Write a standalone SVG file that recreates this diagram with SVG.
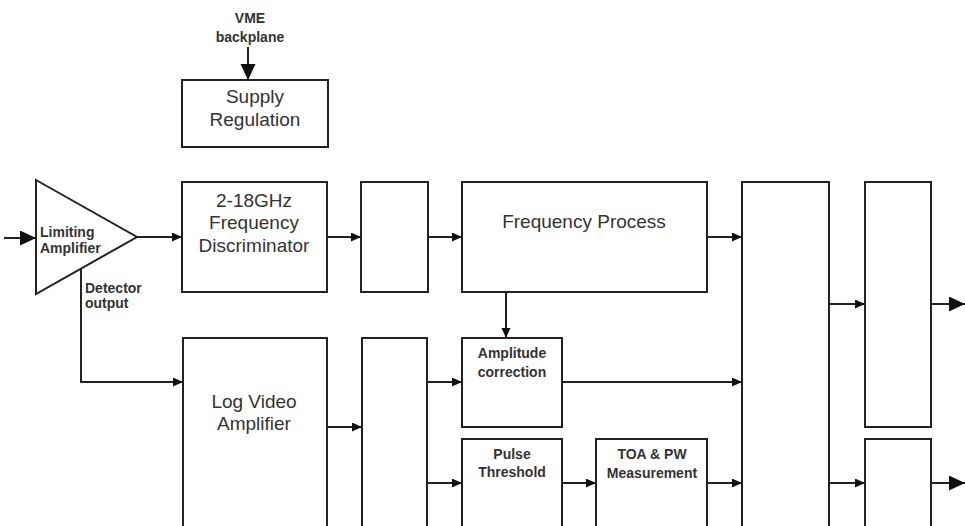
<svg xmlns="http://www.w3.org/2000/svg" width="965" height="526" viewBox="0 0 965 526">
<style>
.b{fill:#fff;stroke:#222;stroke-width:2}
.c{fill:none;stroke:#222;stroke-width:2}
.t{font-family:"Liberation Sans",Arial,sans-serif;fill:#333;text-anchor:middle}
.L{font-size:19px}
.S{font-size:14px;font-weight:bold}
</style>
<defs>
<marker id="a" markerUnits="userSpaceOnUse" markerWidth="11" markerHeight="10" refX="10" refY="4.5" orient="auto"><path d="M0,0 L10,4.5 L0,9 z" fill="#111"/></marker>
<marker id="A" markerUnits="userSpaceOnUse" markerWidth="17" markerHeight="16" refX="16" refY="7.5" orient="auto"><path d="M0,0 L16,7.5 L0,15 z" fill="#111"/></marker>
</defs>
<rect width="965" height="526" fill="#fff"/>
<g id="vme"><text class="t S" x="250" y="23">VME</text><text class="t S" x="250" y="42">backplane</text></g>
<g id="supply"><rect class="b" x="182" y="80" width="146" height="67"/><text class="t L" x="255" y="103">Supply</text><text class="t L" x="255" y="126">Regulation</text></g>
<g id="limamp"><path class="b" d="M36,180 L137,237 L36,294 z"/><text class="t S" x="40" y="237" text-anchor="start" style="text-anchor:start">Limiting</text><text class="t S" x="40" y="253" style="text-anchor:start">Amplifier</text></g>
<g id="detlabel"><text class="t S" x="85" y="293" style="text-anchor:start">Detector</text><text class="t S" x="85" y="308" style="text-anchor:start">output</text></g>
<g id="disc"><rect class="b" x="182" y="182" width="145" height="110"/><text class="t L" x="254" y="207">2-18GHz</text><text class="t L" x="254" y="229">Frequency</text><text class="t L" x="254" y="252">Discriminator</text></g>
<g id="box2"><rect class="b" x="361" y="182" width="67" height="110"/></g>
<g id="freqproc"><rect class="b" x="462" y="182" width="245" height="110"/><text class="t L" x="584" y="228">Frequency Process</text></g>
<g id="logvideo"><rect class="b" x="183" y="338" width="144" height="210"/><text class="t L" x="254" y="408">Log Video</text><text class="t L" x="254" y="430">Amplifier</text></g>
<g id="mid"><rect class="b" x="362" y="338" width="65" height="210"/></g>
<g id="ampcorr"><rect class="b" x="462" y="338" width="100" height="89"/><text class="t S" x="512" y="358">Amplitude</text><text class="t S" x="512" y="377">correction</text></g>
<g id="pulse"><rect class="b" x="462" y="439" width="100" height="110"/><text class="t S" x="512" y="459">Pulse</text><text class="t S" x="512" y="477">Threshold</text></g>
<g id="toa"><rect class="b" x="596" y="439" width="111" height="110"/><text class="t S" x="652" y="459">TOA &amp; PW</text><text class="t S" x="652" y="478">Measurement</text></g>
<g id="big"><rect class="b" x="742" y="182" width="87" height="366"/></g>
<g id="r1"><rect class="b" x="865" y="182" width="66" height="245"/></g>
<g id="r2"><rect class="b" x="865" y="439" width="66" height="110"/></g>
<g id="connectors">
<path class="c" d="M4,238 H36" marker-end="url(#A)"/>
<path class="c" d="M248,47 V80" marker-end="url(#A)"/>
<path class="c" d="M137,237 H182" marker-end="url(#a)"/>
<path class="c" d="M327,237 H361" marker-end="url(#a)"/>
<path class="c" d="M428,237 H462" marker-end="url(#a)"/>
<path class="c" d="M707,237 H742" marker-end="url(#a)"/>
<path class="c" d="M506,292 V338" marker-end="url(#a)"/>
<path class="c" d="M81,269 V382 H183" marker-end="url(#a)"/>
<path class="c" d="M327,427 H362" marker-end="url(#a)"/>
<path class="c" d="M427,382 H462" marker-end="url(#a)"/>
<path class="c" d="M427,483 H462" marker-end="url(#a)"/>
<path class="c" d="M562,382 H742" marker-end="url(#a)"/>
<path class="c" d="M562,483 H596" marker-end="url(#a)"/>
<path class="c" d="M707,483 H742" marker-end="url(#a)"/>
<path class="c" d="M829,304 H865" marker-end="url(#a)"/>
<path class="c" d="M829,483 H865" marker-end="url(#a)"/>
<path class="c" d="M931,304 H965" marker-end="url(#A)"/>
<path class="c" d="M931,483 H965" marker-end="url(#A)"/>
</g>
</svg>
